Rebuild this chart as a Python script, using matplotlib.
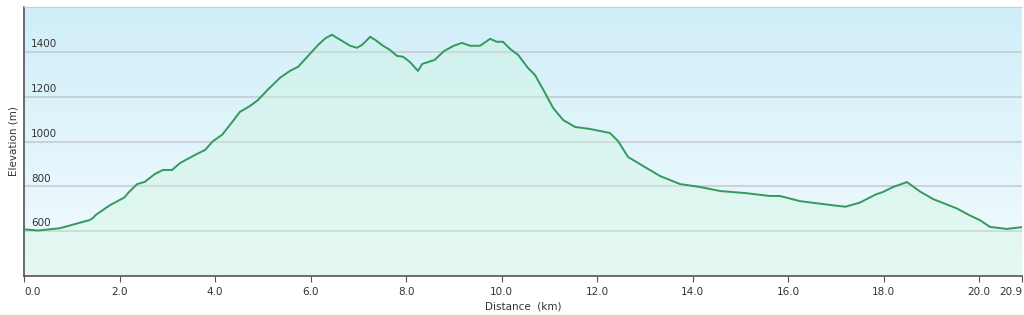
import numpy as np
import matplotlib.pyplot as plt
from matplotlib.colors import LinearSegmentedColormap

# elevation profile (km, m)
distance_km = [0.0, 0.3, 0.75, 1.38, 1.45, 1.5, 1.8, 2.1, 2.2, 2.37, 2.53, 2.74, 2.91, 3.1,
               3.27, 3.58, 3.79, 3.96, 4.15, 4.36, 4.52, 4.73, 4.9, 5.1, 5.36, 5.57, 5.74,
               5.95, 6.16, 6.32, 6.45, 6.62, 6.83, 6.97, 7.08, 7.25, 7.35, 7.52, 7.66, 7.81,
               7.94, 8.08, 8.25, 8.34, 8.6, 8.71, 8.8, 9.0, 9.17, 9.34, 9.55, 9.7, 9.76,
               9.9, 10.03, 10.18, 10.35, 10.55, 10.7, 10.9, 11.08, 11.29, 11.54, 11.85,
               12.27, 12.44, 12.65, 12.9, 13.32, 13.74, 14.16, 14.58, 15.1, 15.62, 15.83,
               16.25, 16.73, 17.2, 17.5, 17.85, 17.98, 18.2, 18.49, 18.77, 19.04, 19.53,
               19.8, 20.02, 20.23, 20.58, 20.9]
elevation_m = [608, 603, 613, 650, 660, 672, 716, 750, 775, 810, 820, 855, 873, 873,
               904, 940, 962, 1002, 1030, 1087, 1132, 1158, 1185, 1230, 1284, 1315, 1333,
               1382, 1431, 1462, 1476, 1454, 1427, 1418, 1431, 1467, 1454, 1427, 1409, 1382,
               1378, 1355, 1315, 1346, 1364, 1386, 1404, 1427, 1440, 1427, 1427, 1449, 1458,
               1445, 1445, 1413, 1386, 1329, 1297, 1221, 1150, 1096, 1065, 1056,
               1038, 1002, 931, 899, 846, 810, 797, 779, 770, 757, 757,
               734, 721, 709, 727, 765, 774, 797, 819, 776, 743, 702,
               671, 649, 619, 610, 618]

x_ticks = [0, 2, 4, 6, 8, 10, 12, 14, 16, 18, 20, 20.9]
x_labels = ["0.0", "2.0", "4.0", "6.0", "8.0", "10.0", "12.0", "14.0", "16.0", "18.0", "20.0", "20.9"]
y_ticks = [600, 800, 1000, 1200, 1400]

fig = plt.figure(figsize=(10.24, 3.15), dpi=100)
ax = fig.add_axes([24 / 1024, 39 / 315, 998 / 1024, 269 / 315])
ax.set_xlim(0, 20.9)
ax.set_ylim(400, 1600)

# sky-blue to white background gradient
bg = LinearSegmentedColormap.from_list("bg", ["#f3fbfe", "#d0eef9"])
ax.imshow(np.linspace(0, 1, 256).reshape(-1, 1), cmap=bg, origin="lower", aspect="auto",
          extent=[0, 20.9, 400, 1600], zorder=0)

for y in y_ticks:
    ax.axhline(y, color="#c4c8cc", lw=1.1, zorder=1)
    ax.text(0.15, y + 12, str(y), fontsize=7.5, color="#333333", va="bottom", ha="left", zorder=4)

ax.fill_between(distance_km, elevation_m, 400, color="#ccf5dc", alpha=0.35, lw=0, zorder=2)
ax.plot(distance_km, elevation_m, color="#33995c", lw=1.4, zorder=3)

ax.set_yticks([])
ax.set_xticks(x_ticks)
ax.set_xticklabels(x_labels, fontsize=7.5, color="#333333")
labels = ax.get_xticklabels()
labels[0].set_ha("left")
labels[-1].set_ha("right")
ax.tick_params(axis="x", direction="out", length=4, color="#555555", pad=4)

ax.spines["right"].set_visible(False)
ax.spines["top"].set_color("#cccccc")
ax.spines["left"].set_color("#555555")
ax.spines["bottom"].set_color("#555555")
ax.spines["left"].set_linewidth(1.2)
ax.spines["bottom"].set_linewidth(1.2)

ax.set_xlabel("Distance  (km)", fontsize=7.5, color="#333333", labelpad=3)
fig.text(14 / 1024, 1 - 141 / 315, "Elevation (m)", rotation=90, fontsize=7.5,
         color="#333333", ha="center", va="center")

plt.savefig("out.png", dpi=100, facecolor="white")
